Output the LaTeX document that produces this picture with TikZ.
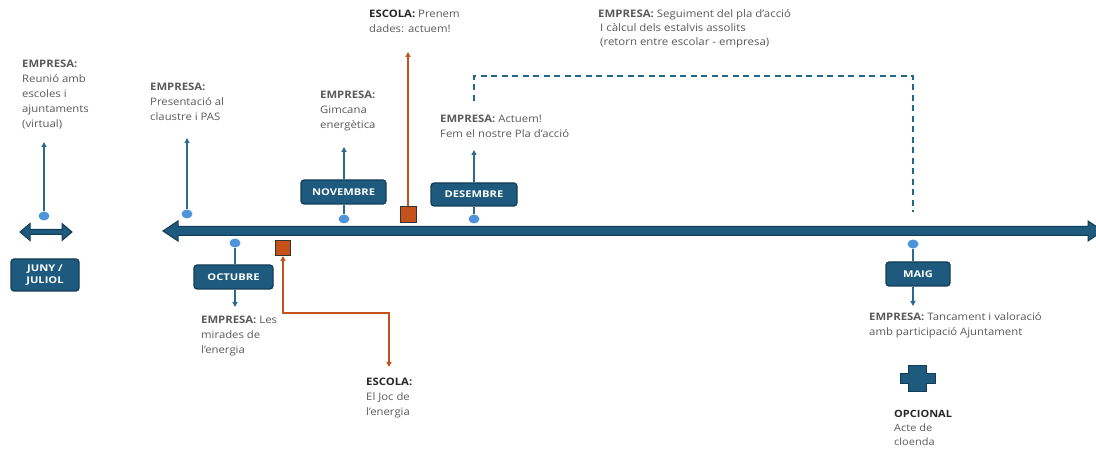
\documentclass[tikz,border=0pt]{standalone}
\usepackage{fontspec}
\setmainfont[FakeStretch=1.1]{Open Sans}
\newfontfamily\boxfont[FakeStretch=1.2]{Open Sans}
\usetikzlibrary{arrows.meta,shapes.geometric}
\definecolor{boxfill}{HTML}{1D5A7D}
\definecolor{boxdraw}{HTML}{123D56}
\definecolor{linec}{HTML}{2B6A8C}
\definecolor{dotc}{HTML}{4D94DB}
\definecolor{orangec}{HTML}{C5521B}
\definecolor{txt}{HTML}{595959}
\definecolor{dark}{HTML}{262626}
\definecolor{dashc}{HTML}{1F6A8A}
\begin{document}
\begin{tikzpicture}[x=1pt,y=-1pt,
 month/.style={draw=boxdraw,fill=boxfill,line width=1.2pt,rounded corners=3pt,text=white,font=\boxfont\bfseries\fontsize{9.3}{12}\selectfont,align=center,inner sep=0pt},
 dot/.style={ellipse,fill=dotc,minimum width=11pt,minimum height=9pt,inner sep=0pt},
 lbl/.style={anchor=north west,inner sep=0pt,align=left,text=txt,font=\fontsize{10.3}{15}\selectfont},
 conn/.style={draw=linec,line width=1.3pt},
 upar/.style={conn,-{Triangle[width=5pt,length=5pt]}},
 osq/.style={draw=black!80,fill=orangec,line width=1pt,minimum size=15pt,inner sep=0pt},
 oline/.style={draw=orangec,line width=1.3pt},
 ohead/.style={-{Triangle[width=5pt,length=5pt]}},
 bigarrow/.style={fill=boxfill,draw=boxdraw,line width=1pt,line join=miter},
]
\useasboundingbox (0,0) rectangle (1096,454);

% main timeline
\draw[bigarrow] (163,231) -- (178,221) -- (178,226.5) -- (1088,226.5) -- (1088,221) -- (1103,231)
  -- (1088,241) -- (1088,235.5) -- (178,235.5) -- (178,241) -- cycle;
% small left double arrow
\draw[bigarrow] (20,232) -- (30,223.5) -- (30,229.5) -- (62,229.5) -- (62,223.5) -- (72,232)
  -- (62,240.5) -- (62,234.5) -- (30,234.5) -- (30,240.5) -- cycle;

% dots
\node[dot] (d1) at (44,216) {};
\node[dot] (d2) at (187,214) {};
\node[dot] (d3) at (235,243) {};
\node[dot] (d4) at (344,219) {};
\node[dot] (d5) at (474,219) {};
\node[dot] (d6) at (913,244) {};

% month boxes
\node[month,minimum width=68pt,minimum height=32pt] (juny) at (45,275) {JUNY /\\JULIOL};
\node[month,minimum width=79pt,minimum height=24pt] (oct) at (233.5,277) {OCTUBRE};
\node[month,minimum width=85pt,minimum height=24pt] (nov) at (343.5,192) {NOVEMBRE};
\node[month,minimum width=86pt,minimum height=23pt] (des) at (474,194.5) {DESEMBRE};
\node[month,minimum width=64pt,minimum height=24pt] (maig) at (918,274) {MAIG};

% orange squares
\node[osq] (s1) at (283,248) {};
\node[osq,minimum size=16pt] (s2) at (408,215) {};

% labels
\node[lbl] (t1) at (22,60) {\textbf{EMPRESA:}\\Reunió amb\\escoles i\\ajuntaments\\(virtual)};
\node[lbl] (t2) at (150,83) {\textbf{EMPRESA:}\\Presentació al\\claustre i PAS};
\node[lbl] (t3) at (320,91) {\textbf{EMPRESA:}\\Gimcana\\energètica};
\node[lbl] (t4) at (369,10) {\textcolor{dark}{\textbf{ESCOLA:}} Prenem\\dades: actuem!};
\node[lbl] (t5) at (440,115) {\textbf{EMPRESA:} Actuem!\\Fem el nostre Pla d’acció};
\node[lbl,font=\fontsize{10.4}{14}\selectfont] (t6) at (598,9) {\textbf{EMPRESA:} Seguiment del pla d’acció\\\hspace*{2pt}I càlcul dels estalvis assolits\\\hspace*{2pt}(retorn entre escolar - empresa)};
\node[lbl] (t7) at (201,316) {\textbf{EMPRESA:} Les\\mirades de\\l’energia};
\node[lbl] (t8) at (366,378) {\textcolor{dark}{\textbf{ESCOLA:}}\\El Joc de\\l’energia};
\node[lbl] (t9) at (869,312) {\textbf{EMPRESA:} Tancament i valoració\\amb participació Ajuntament};
\node[lbl,font=\fontsize{10}{14}\selectfont] (t10) at (894,410) {\textcolor{dark}{\textbf{OPCIONAL}}\\Acte de\\cloenda};

% plus sign
\draw[bigarrow,line width=1pt] (908,366) -- (926,366) -- (926,374) -- (935,374) -- (935,384) -- (926,384)
  -- (926,392) -- (908,392) -- (908,384) -- (900,384) -- (900,374) -- (908,374) -- cycle;

% arrow end coordinates
\coordinate (a1) at (44,142);
\coordinate (a2) at (187,138);
\coordinate (a3) at (235,307);
\coordinate (a4) at (344,147);
\coordinate (a5) at (474,150);
\coordinate (a6) at (913,306);
\coordinate (o1) at (283,313);
\coordinate (o2) at (389,313);
\coordinate (o3) at (389,367);
\coordinate (o4) at (408,52);
\coordinate (q1) at (474,101);
\coordinate (q2) at (474,76);
\coordinate (q3) at (913,76);
\coordinate (q4) at (913,212);

% blue connectors
\draw[upar] (d1.north) -- (a1);
\draw[upar] (d2.north) -- (a2);
\draw[conn] (d3.south) -- (d3.south |- oct.north);
\draw[upar] (d3 |- oct.south) -- (a3);
\draw[conn] (d4.north) -- (d4 |- nov.south);
\draw[upar] (d4 |- nov.north) -- (a4);
\draw[conn] (d5.north) -- (des.south);
\draw[upar] (des.north) -- (a5);
\draw[conn] (d6.south) -- (d6 |- maig.north);
\draw[upar] (d6 |- maig.south) -- (a6);

% orange connectors
\draw[oline,{Triangle[width=5pt,length=5pt]}-{Triangle[width=5pt,length=5pt]}] (s1.south) -- (o1) -- (o2) -- (o3);
\draw[oline,ohead] (s2.north) -- (o4);

% dashed feedback line
\draw[dashc,line width=1.5pt,dash pattern=on 6pt off 4.5pt] (q1) -- (q2) -- (q3) -- (q4);
\end{tikzpicture}
\end{document}
